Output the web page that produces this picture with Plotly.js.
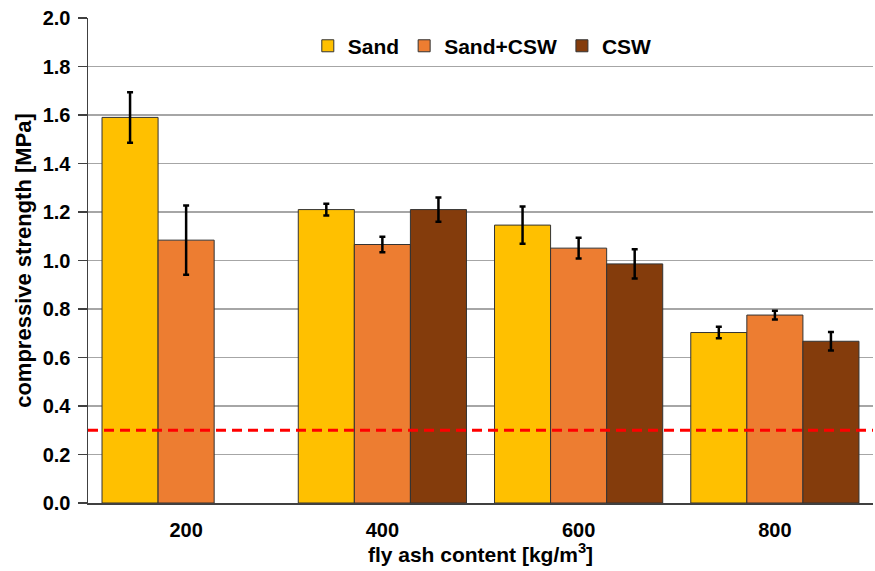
<!DOCTYPE html>
<html>
<head>
<meta charset="utf-8">
<script src="https://cdn.plot.ly/plotly-3.0.1.min.js"></script>
<style>html,body{margin:0;padding:0;background:#fff;}#chart{width:875px;height:571px;}</style>
</head>
<body>
<div id="chart"></div>
<script>
const categories = ["200", "400", "600", "800"];
const seriesNames = ["Sand", "Sand+CSW", "CSW"];
const sand = [1.59, 1.21, 1.146, 0.703];
const sandErr = [0.104, 0.024, 0.077, 0.024];
const sandCsw = [1.084, 1.066, 1.051, 0.775];
const sandCswErr = [0.143, 0.032, 0.043, 0.018];
const csw = [null, 1.21, 0.986, 0.667];
const cswErr = [null, 0.05, 0.06, 0.038];
const threshold = 0.3;
const yTicks = [0, 0.2, 0.4, 0.6, 0.8, 1.0, 1.2, 1.4, 1.6, 1.8, 2.0];

const colors = ["#FFC000", "#ED7D31", "#843C0C"];
const vals = [sand, sandCsw, csw];
const errs = [sandErr, sandCswErr, cswErr];

const FONT = "Liberation Sans, Arial, sans-serif";

const traces = seriesNames.map((n, i) => ({
  type: "bar",
  name: n,
  x: categories,
  y: vals[i],
  marker: {color: colors[i], line: {color: "#333333", width: 1}},
  error_y: {type: "data", array: errs[i], visible: true, color: "#000000", thickness: 2.5, width: 3}
}));

const layout = {
  width: 875, height: 571,
  margin: {l: 88, r: 2, t: 18, b: 68},
  paper_bgcolor: "#ffffff", plot_bgcolor: "#ffffff",
  barmode: "group",
  bargap: 0.143,
  bargroupgap: 0,
  font: {family: FONT, color: "#000000"},
  xaxis: {
    type: "category",
    tickfont: {size: 20, family: FONT, weight: "bold"},
    showline: true, linecolor: "#404040", linewidth: 1.5,
    ticks: "", showgrid: false,
    ticklabelstandoff: 8,
    title: {text: "<b>fly ash content [kg/m<sup>3</sup>]</b>", font: {size: 21}, standoff: 4}
  },
  yaxis: {
    range: [0, 2.0],
    tickvals: yTicks,
    ticktext: yTicks.map(v => v.toFixed(1)),
    tickfont: {size: 20, weight: "bold"},
    showline: true, linecolor: "#404040", linewidth: 1.5,
    ticks: "outside", ticklen: 9, tickcolor: "#404040", tickwidth: 1.2,
    ticklabelstandoff: 3,
    showgrid: true, gridcolor: "#a6a6a6", gridwidth: 1.4,
    zeroline: false,
    title: {text: "<b>compressive strength [MPa]</b>", font: {size: 22}, standoff: 5}
  },
  legend: {
    orientation: "h",
    x: 0.28, xanchor: "left",
    y: 0.942, yanchor: "middle",
    font: {size: 21, weight: "bold"},
    bgcolor: "rgba(255,255,255,0)",
    traceorder: "normal"
  },
  shapes: [{
    type: "line", xref: "paper", x0: 0, x1: 1, yref: "y", y0: threshold, y1: threshold,
    line: {color: "#ff0000", width: 3, dash: "10px,6px"}
  }]
};

Plotly.newPlot("chart", traces, layout, {displayModeBar: false, staticPlot: true});
</script>
</body>
</html>
